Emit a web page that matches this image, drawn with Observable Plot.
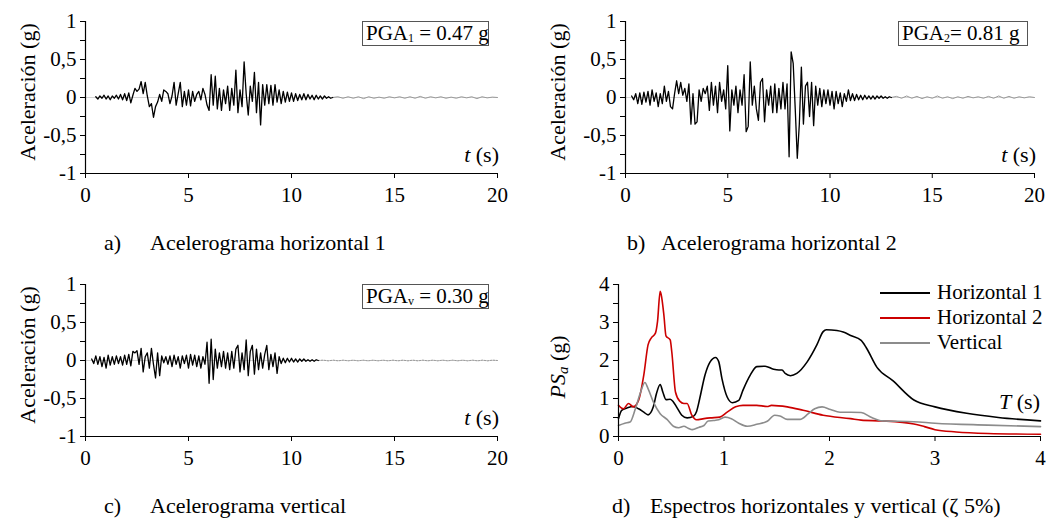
<!DOCTYPE html>
<html><head><meta charset="utf-8">
<script src="https://cdn.jsdelivr.net/npm/d3@7"></script>
<script src="https://cdn.jsdelivr.net/npm/@observablehq/plot@0.6"></script>
<style>
body{margin:0;background:#fff;}
#root{position:relative;width:1046px;height:521px;font-family:"Liberation Serif","Times New Roman",serif;color:#000;overflow:hidden;background:#fff}
.panel{position:absolute}
.t{position:absolute;white-space:nowrap;line-height:1;font-size:21px}
.ax{font-size:22px}
.rot{transform:translate(-50%,-50%) rotate(-90deg)}
.ra{transform:translateX(-100%)}
.pga{position:absolute;border:1px solid #555;background:#fff;font-size:21px;line-height:23px;padding:0 3px;white-space:nowrap;box-sizing:border-box}
.pga sub{font-size:12px;vertical-align:-2px;line-height:0}
.cap{position:absolute;font-size:22px;white-space:nowrap;line-height:1}
.sw{position:absolute;height:0;border-top:2px solid #000;width:50px}
</style></head><body><div id="root"></div><script>
// ---- Accelerograms (g), sampled every 0.1 s from start time ----
const stepAcc = 0.1;
const h1Start = 0.5;
const h1Values = [0.01,-0.02,0.02,-0.01,0.03,-0.02,0.02,-0.03,0.02,-0.01,0.03,-0.02,0.04,-0.03,0.05,
-0.04,0.06,-0.07,0.03,0.12,0.08,0.11,0.21,0.05,0.2,
0.02,-0.12,-0.08,-0.26,-0.12,-0.06,0.04,-0.05,0.1,0.08,
0.05,-0.08,0.02,0.2,-0.1,0.05,0.2,-0.12,0.08,-0.1,
0.1,-0.11,0.08,-0.05,0.04,0.08,-0.03,0.12,0.04,-0.1,
-0.17,0.3,-0.1,0.28,-0.15,0.12,-0.17,0.1,-0.08,0.15,
-0.17,0.12,-0.1,0.36,-0.2,0.1,-0.12,0.47,0.05,-0.23,
0.15,-0.05,0.33,-0.2,0.2,-0.36,0.17,-0.1,0.17,-0.08,
0.16,-0.1,0.17,-0.06,0.1,-0.08,0.08,-0.06,0.07,-0.05,
0.06,-0.05,0.05,-0.04,0.04,-0.03,0.05,-0.03,0.04,-0.02,
0.03,-0.03,0.03,-0.02,0.02,-0.02,0.02,-0.01,0.01,-0.01,
0];
const h1Tail = [0,0.01,-0.01,0.01,-0.01,0.01,-0.015,0.01,-0.01,0.005,-0.01,0.01,-0.005,0.01,-0.01,0.01,-0.01,0.015,-0.01,0.01,-0.005,0.01,-0.01,0.005,-0.01,0.01,-0.005,0.01,-0.015,0.01,-0.005,0.005,0];

const h2Start = 0.3;
const h2Values = [0.02,-0.03,0.05,-0.08,0.06,-0.09,0.07,
-0.06,0.08,-0.1,0.1,-0.05,0.06,-0.12,0.05,-0.08,0.15,
-0.05,0.08,-0.12,-0.15,0.05,0.22,0.05,0.2,0.03,0.12,
-0.05,0.18,-0.35,0.05,-0.35,-0.32,0.1,-0.05,0.12,0.05,
0.15,-0.17,0.2,-0.1,0.15,-0.2,0.2,-0.05,0.1,-0.15,
0.42,-0.44,0.1,-0.1,0.15,-0.2,0.1,-0.1,0.3,-0.45,
-0.38,0.47,-0.1,0.15,-0.15,-0.3,0.2,0.25,-0.32,0.1,
-0.1,0.15,-0.2,0.18,-0.2,0.12,-0.15,0.2,-0.15,0.18,
-0.78,0.6,0.45,-0.15,-0.8,-0.35,0.4,-0.35,0.15,0.2,
-0.25,0.2,-0.37,0.15,-0.1,0.12,-0.12,0.1,-0.08,0.1,
-0.1,0.08,-0.15,0.08,-0.08,0.06,-0.12,0.05,-0.05,0.1,
-0.04,0.05,-0.04,0.04,-0.03,0.03,-0.03,0.03,-0.02,0.02,
-0.02,0.02,-0.02,0.02,-0.01,0.02,-0.01,0.01,-0.01,0.01,
0];
const h2Tail = [0,0.015,-0.01,0.02,-0.01,0.015,-0.015,0.01,-0.01,0.02,-0.01,0.01,-0.015,0.01,-0.01,0.015,-0.005,0.01,-0.01,0.015,-0.01,0.02,-0.01,0.015,-0.01,0.01,-0.005,0.01,0];

const vStart = 0.3;
const vValues = [0.02,-0.04,0.06,-0.05,0.05,-0.08,0.04,
-0.1,0.07,-0.06,0.05,-0.05,0.06,-0.04,0.05,-0.06,0.07,
-0.05,0.08,-0.07,0.12,0.1,0.13,-0.05,0.16,-0.15,0.05,
0.1,-0.1,0.16,-0.05,-0.23,0.1,-0.2,0.06,-0.03,0.05,
-0.05,0.06,-0.08,0.07,-0.05,0.05,-0.1,0.06,-0.04,0.07,
-0.1,0.08,-0.06,0.07,-0.08,0.06,-0.1,0.05,-0.05,0.24,
-0.3,0.28,-0.25,0.15,-0.1,0.1,-0.08,0.12,-0.1,0.1,
-0.12,0.12,-0.1,0.15,0.2,-0.15,0.1,-0.12,0.27,-0.2,
0.12,0.2,-0.18,0.15,-0.12,0.1,-0.1,0.08,0.2,-0.12,
0.08,-0.08,0.1,-0.17,0.05,-0.04,0.03,-0.03,0.03,-0.02,
0.03,-0.02,0.02,-0.02,0.02,-0.01,0.02,-0.01,0.01,-0.01,
0.01,-0.01,0.01,0];
const vTail = [0,0.005,-0.005,0.005,-0.005,0.005,-0.005,0.005,-0.005,0.005,-0.005,0.005,-0.005,0.005,-0.005,0.005,-0.005,0.005,-0.005,0.005,-0.005,0.005,-0.005,0.005,-0.005,0.005,-0.005,0.005,-0.005,0.005,-0.005,0.005,-0.005,0.005,-0.005,0.005,0];

// ---- Spectra PSa (g) vs T (s) ----
const spH1T = [0,0.03,0.08,0.14,0.19,0.24,0.28,0.33,0.36,0.395,0.42,0.45,0.49,0.52,0.55,0.6,0.65,0.71,0.74,0.77,0.82,0.87,0.92,0.95,0.98,1.03,1.08,1.14,1.18,1.25,1.31,1.39,1.47,1.52,1.55,1.58,1.63,1.69,1.79,1.88,1.94,1.97,2.07,2.13,2.2,2.3,2.35,2.45,2.6,2.8,3.0,3.3,3.6,4.0];
const spH1 = [0.47,0.69,0.75,0.79,0.73,0.64,0.57,0.78,1.13,1.37,1.17,0.97,0.98,0.91,0.78,0.56,0.49,0.53,0.66,1.0,1.62,1.97,2.08,1.97,1.53,1.04,0.89,0.95,1.22,1.62,1.84,1.85,1.77,1.75,1.75,1.66,1.6,1.66,1.97,2.41,2.76,2.81,2.79,2.75,2.66,2.53,2.33,1.82,1.47,0.96,0.78,0.61,0.5,0.41];
const spH2T = [0,0.047,0.095,0.14,0.19,0.24,0.28,0.31,0.35,0.37,0.395,0.41,0.43,0.45,0.49,0.505,0.54,0.58,0.62,0.65,0.695,0.74,0.81,0.87,0.96,1.03,1.11,1.18,1.31,1.41,1.45,1.6,1.75,1.94,2.2,2.3,2.5,2.8,2.9,3.0,3.2,3.5,4.0];
const spH2 = [0.82,0.73,0.87,0.78,0.95,1.62,2.41,2.59,2.72,3.03,3.82,3.65,3.2,2.65,2.54,2.23,1.17,0.93,0.87,0.87,0.56,0.44,0.47,0.49,0.51,0.64,0.78,0.82,0.82,0.79,0.82,0.78,0.69,0.56,0.47,0.43,0.41,0.33,0.26,0.18,0.12,0.08,0.06];
const spVT = [0,0.06,0.11,0.16,0.21,0.25,0.28,0.33,0.395,0.46,0.52,0.57,0.62,0.66,0.7,0.76,0.81,0.85,0.9,0.95,1.01,1.07,1.14,1.22,1.31,1.41,1.48,1.53,1.6,1.72,1.8,1.86,1.93,2.01,2.1,2.2,2.3,2.4,2.5,2.8,3.0,3.5,4.0];
const spV = [0.29,0.35,0.38,0.73,1.17,1.42,1.26,0.91,0.6,0.45,0.27,0.23,0.27,0.22,0.18,0.24,0.29,0.41,0.42,0.44,0.51,0.47,0.35,0.27,0.32,0.4,0.56,0.54,0.45,0.45,0.6,0.73,0.78,0.71,0.64,0.64,0.63,0.5,0.41,0.39,0.35,0.3,0.26];

// ---- Ticks ----
const accXTicks = [0,5,10,15,20];
const accYLabels = [-1,-0.5,0,0.5,1];
const accYMinor = [-1,-0.75,-0.5,-0.25,0,0.25,0.5,0.75,1];
const spXTicks = [0,1,2,3,4];
const spYLabels = [0,1,2,3,4];
const spYMinor = [0,0.5,1,1.5,2,2.5,3,3.5,4];
const seriesNames = ["Horizontal 1","Horizontal 2","Vertical"];
const seriesColors = ["#000000","#cc0000","#8c8c8c"];

const fmt = d => String(d).replace(".", ",");
const root = document.getElementById("root");

function rowsFrom(start, values, step){ return values.map((a,i)=>({t:+(start+i*step).toFixed(3), a})); }
function tailFrom(start, values){ const st=(20-start)/(values.length-1); return values.map((a,i)=>({t:start+i*st, a})); }

const baseStyle = {fontFamily:"'Liberation Serif','Times New Roman',serif", fontSize:"21px", background:"transparent", color:"#000", overflow:"visible"};

function accelPlot(rows, tail, tailDash, ml, mr){
  return Plot.plot({
    width:523, height:215, marginLeft:ml, marginRight:mr, marginTop:21, marginBottom:42,
    style: baseStyle,
    x:{domain:[0,20], label:null}, y:{domain:[-1,1], label:null},
    marks:[
      Plot.ruleY([0], {stroke:"#d4d4d4", strokeWidth:1.2}),
      Plot.line(tail, {x:"t", y:"a", stroke:"#9a9a9a", strokeWidth:1, strokeDasharray: tailDash}),
      Plot.line(rows, {x:"t", y:"a", stroke:"#000", strokeWidth:1.3}),
      Plot.ruleX([0], {stroke:"#000", strokeWidth:1.2}),
      Plot.ruleY([-1], {stroke:"#000", strokeWidth:1.2}),
      Plot.axisY(accYMinor, {tickSize:5, tickFormat:()=>"", label:null}),
      Plot.axisY(accYLabels, {tickSize:0, tickPadding:9, tickFormat:fmt, label:null}),
      Plot.axisX(accXTicks, {tickSize:5, tickPadding:9, label:null})
    ]
  });
}

function place(node, left, top){
  const d = document.createElement("div"); d.className="panel"; d.style.left=left+"px"; d.style.top=top+"px";
  d.appendChild(node); root.appendChild(d);
}
function html(cls, left, top, inner, extra){
  const d = document.createElement("div"); d.className=cls; d.style.left=left+"px"; d.style.top=top+"px";
  d.innerHTML = inner; if(extra) Object.assign(d.style, extra); root.appendChild(d); return d;
}

const h1Rows = rowsFrom(h1Start, h1Values, stepAcc);
const h2Rows = rowsFrom(h2Start, h2Values, stepAcc);
const vRows = rowsFrom(vStart, vValues, stepAcc);

place(accelPlot(h1Rows, tailFrom(h1Rows[h1Rows.length-1].t, h1Tail), null, 85, 26), 0, 0);
place(accelPlot(h2Rows, tailFrom(h2Rows[h2Rows.length-1].t, h2Tail), null, 102, 12), 523, 0);
place(accelPlot(vRows, tailFrom(vRows[vRows.length-1].t, vTail), "1.5,1.5", 85, 26), 0, 263);

// Spectra panel
const spRows = [
  ...spH1T.map((T,i)=>({T, v:spH1[i], s:seriesNames[0]})),
  ...spH2T.map((T,i)=>({T, v:spH2[i], s:seriesNames[1]})),
  ...spVT.map((T,i)=>({T, v:spV[i], s:seriesNames[2]}))
];
const spPlot = Plot.plot({
  width:523, height:215, marginLeft:95, marginRight:6, marginTop:21, marginBottom:42,
  style: baseStyle,
  x:{domain:[0,4], label:null}, y:{domain:[0,4], label:null},
  color:{domain:seriesNames, range:seriesColors},
  marks:[
    Plot.line(spRows, {x:"T", y:"v", z:"s", stroke:"s", strokeWidth:1.6, curve:"monotone-x"}),
    Plot.ruleX([0], {stroke:"#000", strokeWidth:1.2}),
    Plot.ruleY([0], {stroke:"#000", strokeWidth:1.2}),
    Plot.axisY(spYMinor, {tickSize:5, tickFormat:()=>"", label:null}),
    Plot.axisY(spYLabels, {tickSize:0, tickPadding:9, label:null}),
    Plot.axisX(spXTicks, {tickSize:5, tickPadding:9, label:null})
  ]
});
place(spPlot, 523, 263);

// Axis titles
html("t ax rot", 28, 92, "Aceleración (g)");
html("t ax rot", 558, 92, "Aceleración (g)");
html("t ax rot", 28, 355, "Aceleración (g)");
html("t ax rot", 558, 367, "<i>PS<sub style='font-size:15px;vertical-align:-3px;line-height:0'>a</sub></i> (g)");
html("t ax ra", 499, 144, "<i>t</i> (s)");
html("t ax ra", 1036, 144, "<i>t</i> (s)");
html("t ax ra", 499, 407, "<i>t</i> (s)");
html("t ax ra", 1040, 391, "<i>T</i> (s)");

// PGA boxes
html("pga", 362, 21, "PGA<sub>1</sub> = 0.47 g", {width:"127px", height:"25px"});
html("pga", 898, 21, "PGA<sub>2</sub>= 0.81 g", {width:"130px", height:"25px"});
html("pga", 362, 284, "PGA<sub>v</sub> = 0.30 g", {width:"127px", height:"25px"});

// Legend
seriesNames.forEach((n,i)=>{
  const y = 292 + i*25;
  html("sw", 880, y, "", {borderTopColor: seriesColors[i]});
  html("t", 937, y-10, n);
});

// Captions
html("cap", 104, 232, "a)");
html("cap", 150, 232, "Acelerograma horizontal 1");
html("cap", 627, 232, "b)");
html("cap", 661, 232, "Acelerograma horizontal 2");
html("cap", 104, 495, "c)");
html("cap", 150, 495, "Acelerograma vertical");
html("cap", 612, 495, "d)");
html("cap", 650, 495, "Espectros horizontales y vertical (ζ 5%)");
</script></body></html>
